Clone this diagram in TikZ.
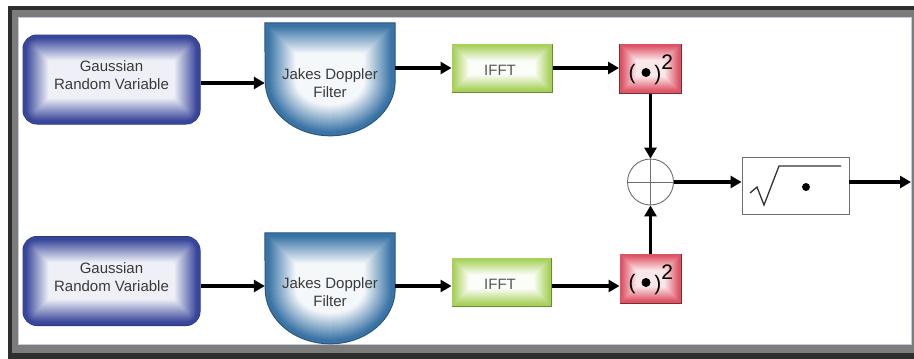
\documentclass[tikz,border=0pt]{standalone}
\usepackage{fontspec}
\setmainfont{Liberation Sans}
\usetikzlibrary{arrows.meta,calc}
\definecolor{gout}{HTML}{38469A}
\definecolor{gedge}{HTML}{27326F}
\definecolor{jout}{HTML}{3A74A6}
\definecolor{jedge}{HTML}{2D5678}
\definecolor{fout}{HTML}{A8D15C}
\definecolor{fedge}{HTML}{6A8A34}
\definecolor{sout}{HTML}{DE5465}
\definecolor{sedge}{HTML}{7A2E38}
\definecolor{txt}{HTML}{3A3A3A}
\definecolor{framedark}{HTML}{2E2E2E}
\definecolor{framegray}{HTML}{7C7C7C}
\definecolor{framelight}{HTML}{C8C8DC}
\definecolor{lgray}{HTML}{6E6E6E}
\begin{document}
\begin{tikzpicture}[x=1pt,y=-1pt,
  gbox/.style={rectangle, rounded corners=14pt, minimum width=177pt, minimum height=89pt, draw=gedge, line width=1pt, fill=gout, inner sep=0pt},
  jbox/.style={rectangle, minimum width=130pt, inner sep=0pt},
  fbox/.style={rectangle, minimum width=100pt, minimum height=48pt, draw=fedge, line width=1pt, fill=fout, inner sep=0pt},
  sbox/.style={rectangle, minimum width=62pt, minimum height=49pt, draw=sedge, line width=1pt, fill=sout, inner sep=0pt},
  lbl/.style={align=center, font=\fontsize{15}{18}\selectfont, text=txt, inner sep=0pt},
  paren/.style={font=\fontsize{21}{21}\selectfont, inner sep=0pt, text=black},
  arr/.style={line width=3.2pt, -{Triangle[length=11pt,width=12pt]}},
  thin/.style={draw=lgray, line width=0.9pt}
]
\useasboundingbox (0,0) rectangle (914,359);
\begin{scope}
\clip (0,0) rectangle (914,359);
\fill[framedark] (8,6) rectangle (940,380);
\fill[framegray] (11.5,9.5) rectangle (920,352.5);
\fill[white] (18,17) rectangle (912,345);
\draw[framelight, line width=0.8pt] (18.4,17.4) -- (911.6,17.4) -- (911.6,344.6) -- (18.4,344.6) -- cycle;
\end{scope}

% Gaussian boxes
\node[gbox] (g1) at (111.5,79.5) {};
\node[gbox] (g2) at (111.5,281) {};
\foreach \b in {g1,g2}{
  \foreach \d in {0.6,1.6,...,34}{
    \pgfmathsetmacro\p{max(8,min(100,100*(28-\d)/25))}
    \pgfmathsetmacro\rc{max(14-\d,1)}
    \fill[gout!\p!white, rounded corners=\rc pt] ($(\b.north west)+(\d,\d)$) rectangle ($(\b.south east)+(-\d,-\d)$);
  }
}
\node[lbl] (g1t) at (111.5,75.5) {Gaussian\\Random Variable};
\node[lbl] (g2t) at (111.5,277.5) {Gaussian\\Random Variable};

% Jakes filters
\node[jbox, minimum height=113pt] (j1) at (330,79.5) {};
\node[jbox, minimum height=111pt] (j2) at (330,288.5) {};
\foreach \b/\h in {j1/58,j2/56}{
  \foreach \d in {0,1,...,40}{
    \pgfmathsetmacro\p{max(5,min(100,100*(32-\d)/29))}
    \pgfmathsetmacro\rx{65-\d}
    \pgfmathsetmacro\ry{55-\d}
    \fill[jout!\p!white] ($(\b.north west)+(\d,\d)$) -- ($(\b.north east)+(-\d,\d)$) -- ($(\b.north east)+(-\d,\h)$) arc[start angle=0, end angle=-180, x radius=\rx pt, y radius=\ry pt] -- cycle;
  }
  \draw[jedge, line width=1pt] (\b.north west) -- (\b.north east) -- ($(\b.north east)+(0,\h)$) arc[start angle=0, end angle=-180, x radius=65pt, y radius=55pt] -- cycle;
}
\node[lbl] (j1t) at (330,83) {Jakes Doppler\\Filter};
\node[lbl] (j2t) at (330,292) {Jakes Doppler\\Filter};

% IFFT
\node[fbox] (f1) at (502,68) {};
\node[fbox, minimum width=99pt] (f2) at (501.5,282) {};
\foreach \b in {f1,f2}{
  \foreach \d in {0.6,1.6,...,22}{
    \pgfmathsetmacro\p{max(4,min(100,100*(18-\d)/16))}
    \fill[fout!\p!white] ($(\b.north west)+(\d,\d)$) rectangle ($(\b.south east)+(-\d,-\d)$);
  }
}
\node[lbl, text=txt!85] (f1t) at (500,70) {IFFT};
\node[lbl, text=txt!85] (f2t) at (500,284) {IFFT};

% squaring boxes
\node[sbox] (s1) at (650.5,68.5) {};
\node[sbox, minimum width=61pt] (s2) at (650.5,278.5) {};
\foreach \b in {s1,s2}{
  \foreach \d in {0.6,1.6,...,22}{
    \pgfmathsetmacro\p{max(14,min(100,100*(19-\d)/17))}
    \fill[sout!\p!white] ($(\b.north west)+(\d,\d)$) rectangle ($(\b.south east)+(-\d,-\d)$);
  }
  \node[paren] (\b lp) at ($(\b)+(-18.5,5.5)$) {(};
  \fill ($(\b)+(-4.5,4)$) circle[radius=4.5pt];
  \node[paren] (\b rp) at ($(\b)+(13.3,1.5)$) {)\raisebox{10.6pt}{2}};
}

% summing junction
\node[circle, thin, minimum size=46pt, inner sep=0pt, fill=white] (c) at (650.5,182) {};
\draw[thin, line width=0.7pt] (c.north) -- (c.south) (c.west) -- (c.east);

% square root box
\node[rectangle, thin, minimum width=107pt, minimum height=57pt, inner sep=0pt, fill=white] (r) at (795.5,185.5) {};
\draw[draw=black!80, line width=1.3pt] ($(r.center)+(-45.5,7.5)$) -- ($(r.center)+(-38.5,1.5)$) -- ($(r.center)+(-31.5,19.5)$) -- ($(r.center)+(-16.5,-19.5)$) -- ($(r.center)+(45.5,-19.5)$);
\fill ($(r.center)+(10.5,1.5)$) circle[radius=4pt];
\coordinate (out) at (911,182);

% connectors
\draw[arr] (g1.east |- j1t) -- (j1.west |- j1t);
\draw[arr] (j1.east |- f1) -- (f1.west);
\draw[arr] (f1.east) -- (s1.west |- f1);
\draw[arr] (g2.east |- 0,286) -- (j2.west |- 0,286);
\draw[arr] (j2.east |- 0,286) -- (f2.west |- 0,286);
\draw[arr] (f2.east |- 0,286) -- (s2.west |- 0,286);
\draw[arr] (s1.south) -- (c.north);
\draw[arr] (s2.north) -- (c.south);
\draw[arr] (c.east) -- (r.west |- c);
\draw[arr] (r.east |- c) -- (out);
\end{tikzpicture}
\end{document}
